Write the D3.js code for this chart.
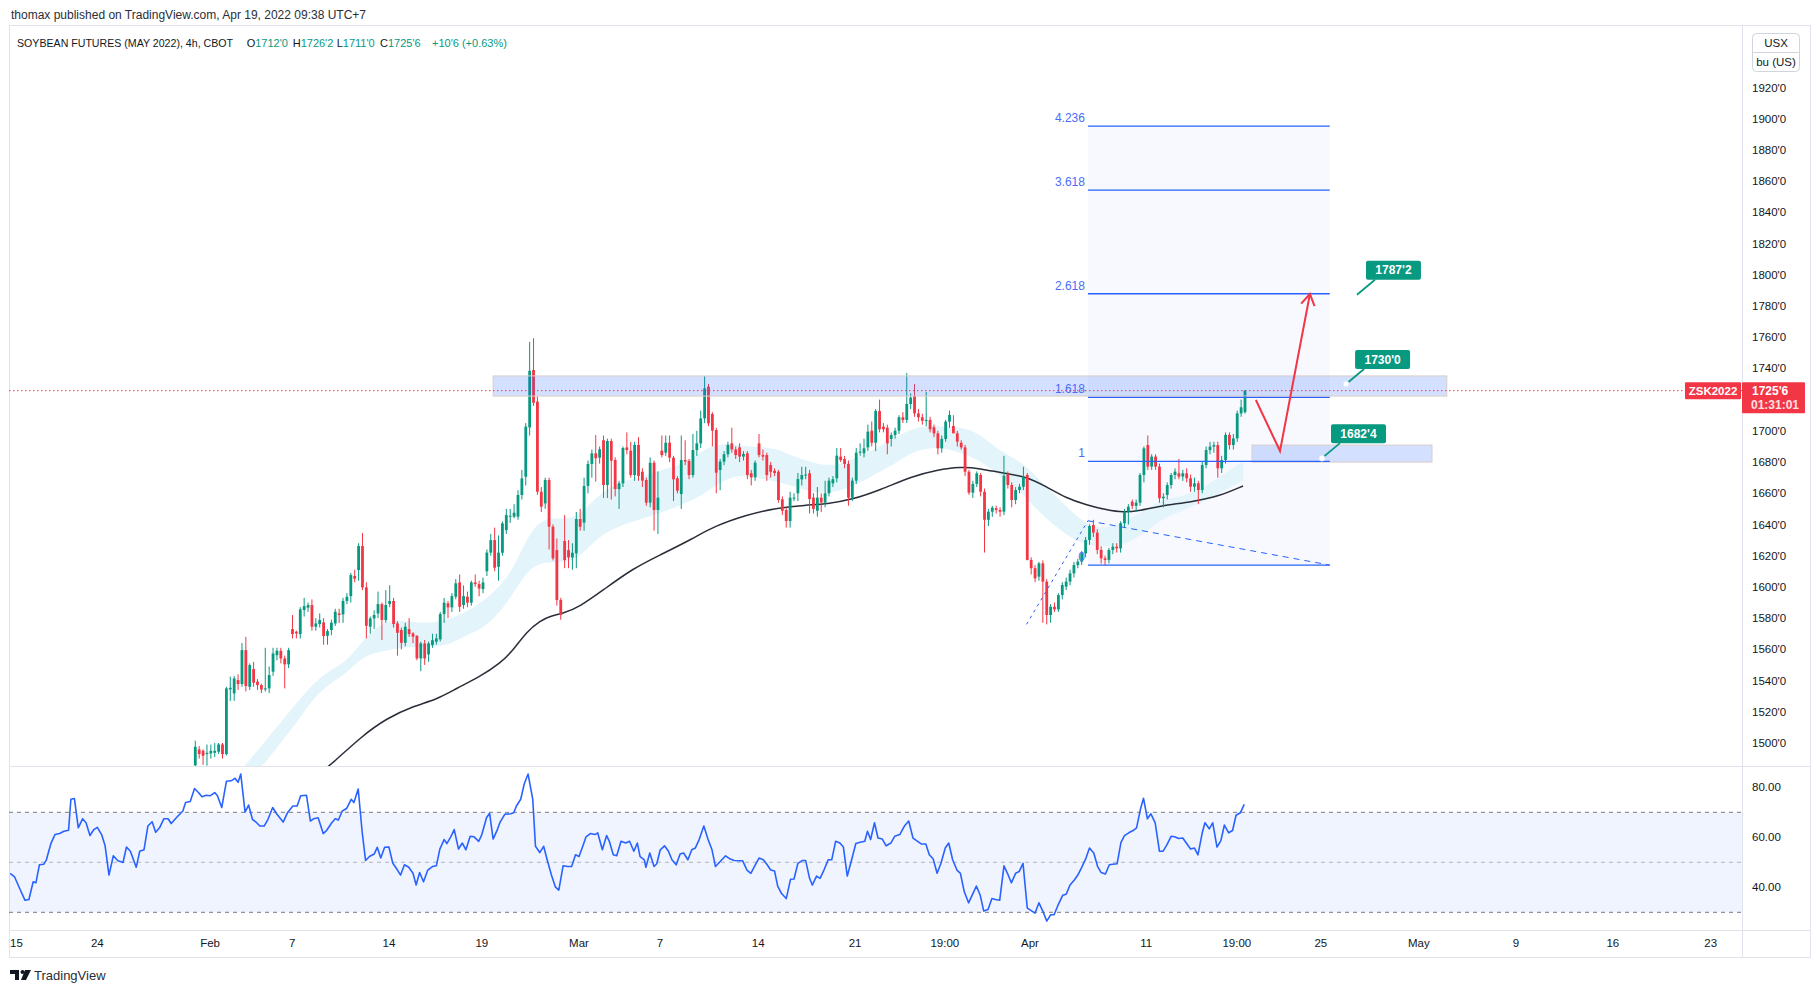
<!DOCTYPE html>
<html>
<head>
<meta charset="utf-8">
<script src="https://cdn.jsdelivr.net/npm/d3@7"></script>
<style>
  body { margin: 0; background: #fff; }
  svg text { font-family: "Liberation Sans", Arial, sans-serif; }
</style>
</head>
<body>
<svg id="chart" width="1820" height="993"></svg>
<script>
// ---- data ----
// 4h candles [open, high, low, close], first one is bar 46 (bar 0 ~ Jan 15)
const firstBar = 46;
const bars = [
  [1485.7,1501.5,1484,1497.6],[1495.9,1498,1490,1492.9],[1495,1496,1486,1491.8],[1492.9,1499,1485.5,1493.7],[1493.3,1499,1490,1495],
  [1493.7,1500,1491,1495],[1494.4,1500,1493,1499.1],[1499.1,1500,1490,1492.9],[1492.9,1536,1492,1535],[1534.3,1542.5,1527,1535.4],
  [1531.8,1543,1527,1541.4],[1540.3,1544,1534,1537.8],[1537.8,1564,1536,1559.5],[1559.5,1568,1533,1536.5],[1536,1551,1534,1549.9],
  [1547.4,1552,1536,1538.6],[1539.3,1541,1534,1537.1],[1537.1,1538,1532,1534.3],[1534.3,1561,1533,1535],[1535,1549,1532,1543.5],
  [1545.7,1561,1543,1557.4],[1556.3,1561,1553,1559.1],[1559.1,1561,1551,1554.2],[1554.2,1556,1535,1550.4],[1550.4,1561,1548,1559.5],
  [1573,1582,1567,1569.8],[1571.3,1572,1567,1570.2],[1569.8,1587,1567,1585.6],[1585.2,1593,1581,1587.7],[1586.7,1590,1584,1588.4],
  [1588.4,1592,1572,1574.5],[1574.5,1580,1572,1576.6],[1576.2,1583,1574,1578.8],[1577.3,1580,1563,1568.5],[1568.7,1573,1563,1571.7],
  [1572.4,1579,1569,1577.1],[1576.6,1586,1575,1584.1],[1583,1586,1577,1582],[1582.4,1593,1577,1591],[1591,1596,1589,1593.7],
  [1594.1,1609,1590,1607.6],[1607,1611,1603,1605.3],[1610.8,1628,1604,1626.2],[1626.2,1634.5,1598,1599.7],[1599.7,1603,1567,1575.1],
  [1574.5,1581,1570,1579.8],[1579.8,1585,1573,1582],[1583,1597,1580,1589],[1589,1590,1566,1578.8],[1578.8,1598,1577,1588.4],
  [1589,1601,1587,1591],[1591,1593,1574,1576.2],[1576.6,1578,1556,1570.6],[1572.4,1574,1560,1564.2],[1564.2,1577,1562,1574.5],
  [1573,1580,1568,1569.8],[1570.2,1571,1564,1568.1],[1568.7,1569,1553,1554.2],[1554.2,1565,1546,1563.8],[1563.8,1566,1550,1554.2],
  [1556.8,1565,1552,1563.8],[1562.7,1570,1561,1565.9],[1564.9,1570,1563,1567],[1566.4,1584,1565,1582.6],[1582.6,1593,1577,1589.9],
  [1589.5,1591,1580,1586.9],[1586.9,1596,1584,1594.1],[1593.7,1605,1592,1602.3],[1602.9,1608,1584,1587.3],[1588.4,1601,1586,1594.1],
  [1593.7,1597,1587,1589.9],[1589.9,1604,1588,1602.9],[1602.9,1608,1600,1601.8],[1601.8,1604,1594,1599],[1598.6,1606,1596,1602.9],
  [1610,1624,1607,1622],[1622,1634,1620,1630],[1630,1638,1610,1612.3],[1612.9,1633,1604,1622],[1621.9,1642,1620,1640.7],
  [1636.4,1650,1634,1646],[1645,1650,1641,1645.6],[1645,1653,1644,1647.5],[1645,1662,1643,1658.9],[1658.9,1675,1656,1669.5],
  [1670.6,1705,1665,1702.7],[1702.2,1757,1697,1738.5],[1739,1759.3,1716,1718],[1718.7,1722,1659,1661],[1661,1664,1648,1651.4],
  [1653.5,1670,1650,1668.5],[1668.5,1670,1624,1638.6],[1638.6,1640,1617,1618.3],[1623.6,1631,1588,1591.6],[1591.6,1593,1579,1582],
  [1629.4,1646,1612,1617.2],[1623.6,1630,1612,1618.9],[1618.9,1628,1611,1621.9],[1621.5,1648,1612,1643.5],[1643.5,1650,1636,1638.6],
  [1641.2,1670,1636,1664.7],[1664.7,1681,1660,1678.8],[1678.8,1688,1670,1685.6],[1685.6,1697.3,1667.5,1682.4],[1682.8,1690,1679,1688.2],
  [1694,1697,1657,1665.3],[1665.3,1695,1657,1693.5],[1693.5,1695,1656,1680.9],[1681.3,1683,1658,1662.7],[1662.7,1668,1650,1666.4],
  [1666.4,1690,1664,1689],[1689.4,1699,1685,1687.7],[1687.3,1693,1670,1671.7],[1671.7,1693,1668,1691],[1691,1696,1668,1671.1],
  [1673.8,1676,1664,1668.1],[1668.5,1670,1652,1654],[1654,1683,1651,1679.6],[1679.6,1681,1636,1649.3],[1649.3,1674,1634,1657.2],
  [1687.3,1697,1683,1684.5],[1686,1697,1684,1692.4],[1692.4,1697,1680,1682.8],[1682.8,1684,1655,1668.9],[1669.6,1671,1660,1661.7],
  [1659.5,1697,1650,1681.3],[1681.3,1694,1678,1680.3],[1680.7,1682,1669,1671.7],[1671.7,1698,1670,1687.7],[1687.7,1700,1684,1692],
  [1692,1713,1689,1708],[1708,1735,1705,1727.2],[1728.3,1730,1703,1704.8],[1710.8,1712,1690,1700.1],[1700.5,1702,1660,1673.2],
  [1674.9,1682,1662,1680.3],[1680.3,1687,1678,1685],[1685,1693,1683,1691],[1692,1702,1686,1688.1],[1688.1,1690,1682,1684.5],
  [1689.4,1692,1680,1683.5],[1683.5,1687,1681,1685.2],[1685.6,1687,1669,1671.7],[1672.8,1675,1665,1670.2],[1670.2,1681,1668,1679.6],
  [1692,1698,1683,1684.5],[1684.5,1688,1681,1683.5],[1684.5,1686,1668,1671.7],[1678.1,1680,1670,1673.8],[1674.5,1676,1671,1673],
  [1673.8,1675,1654,1655.7],[1656.1,1658,1646,1648.8],[1649.3,1651,1638,1642.2],[1642.2,1661,1638,1657.2],[1656.8,1660,1655,1657.2],
  [1660,1673,1655,1669.1],[1668.9,1677,1665,1671.7],[1671.5,1677,1669,1672],[1672.8,1675,1647,1656.3],[1657.2,1660,1647,1650],
  [1648.8,1664,1645,1657.2],[1657.2,1660,1648,1654],[1654,1668,1651,1660],[1660,1670,1658,1668.1],[1666.4,1671,1664,1669],
  [1669.6,1689,1667,1684.1],[1683.5,1689,1680,1681.3],[1682,1684,1676,1678.8],[1678.8,1681,1652,1657.2],[1657.2,1670,1655,1668.1],
  [1668.1,1689,1666,1686],[1686,1692,1684,1686.7],[1685.6,1695,1683,1688.8],[1689.4,1704,1687,1699.5],[1700.1,1706,1690,1692.4],
  [1692.4,1714,1687,1712.7],[1712.7,1720,1699,1701],[1702.7,1705,1699,1701],[1702,1704,1685,1692],[1694.8,1699,1690,1697.3],
  [1697.3,1702,1695,1700.1],[1700.1,1710,1698,1708.7],[1708.7,1712,1705,1707],[1707,1737,1705,1717.2],[1717.2,1724,1714,1721.3],
  [1722.3,1730,1709,1711.2],[1711.2,1714,1706,1708.7],[1708.7,1711,1704,1706.5],[1706.5,1725,1703,1707],[1707,1709,1699,1701],
  [1702.3,1704,1696,1698.4],[1698.4,1700,1685,1688.8],[1688.8,1697,1686,1694.8],[1694.8,1707,1693,1705.9],[1705.9,1713,1702,1710.2],
  [1703.1,1710,1700,1698.4],[1698.4,1700,1690,1693.1],[1692.4,1694,1688,1689.4],[1689.4,1691,1671,1673.8],[1673.8,1675,1659,1660.4],
  [1660.4,1668,1657,1666],[1666,1674,1664,1672.8],[1671.7,1673,1658,1661],[1661,1663,1622,1643],[1643,1650,1639,1648.2],
  [1648.2,1652,1645,1650.8],[1650.4,1652,1647,1649.3],[1649.3,1651,1645,1648.2],[1648.2,1684,1646,1671.3],[1672.2,1674,1663,1665.3],
  [1665.3,1667,1651,1655.7],[1655.7,1664,1653,1662.1],[1662.1,1666,1660,1664.2],[1664.2,1677,1662,1670.7],[1671.7,1673,1617,1617.3],
  [1617.3,1619,1608,1612],[1612,1614,1603,1605.5],[1606.6,1616,1604,1615.1],[1615.1,1617,1577,1603.4],[1603.4,1605,1576,1582],
  [1582,1589,1577,1587.3],[1587.3,1590,1584,1585.6],[1585.6,1596,1584,1594.8],[1594.8,1603,1592,1601.2],[1600.2,1606,1598,1603.4],
  [1603.4,1611,1601,1608.7],[1608.7,1616,1606,1614],[1614,1618,1612,1616.2],[1616.2,1623,1614,1621.5],[1621.5,1632,1619,1630.1],
  [1630.1,1640,1627,1639],[1639.7,1643,1632,1634.8],[1634.8,1637,1621,1623.7],[1623.7,1626,1615,1618.3],[1618.3,1620,1614,1617.3],
  [1617.3,1625,1615,1623.7],[1623.7,1628,1621,1625.8],[1625.8,1628,1622,1624.7],[1624.7,1642,1622,1640.8],[1640.8,1650,1638,1648.2],
  [1648.2,1653,1640,1651.4],[1654.6,1656,1650,1651.9],[1651.9,1656,1648,1654],[1654,1673,1652,1671.7],[1671.7,1690,1667,1688.8],
  [1690.9,1697,1675,1677.1],[1677.1,1685,1675,1683.5],[1683.5,1685,1675,1677.1],[1677.1,1679,1654,1656.8],[1656.8,1660,1651,1657.8],
  [1658.9,1667,1656,1665.3],[1665.3,1673,1663,1671.7],[1671.7,1676,1669,1673.9],[1672.8,1682,1669,1670.7],[1670.7,1675,1668,1672.8],
  [1672.8,1676,1667,1669.6],[1669.6,1672,1661,1664.2],[1664.2,1670,1661,1666.4],[1666.4,1668,1653,1662.1],[1662.1,1680,1660,1678.1],
  [1678.1,1690,1676,1687.7],[1687.7,1693,1685,1689.9],[1689.9,1693,1686,1690.9],[1690.9,1693,1670,1676],[1676,1684,1673,1681.3],
  [1681.3,1699,1679,1697.4],[1697.4,1699,1688,1690.9],[1690.9,1698,1688,1695.2],[1695.2,1713,1693,1711.2],[1711.2,1720,1709,1715.1],
  [1712,1726.25,1711,1725.75]
];

// black moving average, [bar, price]
const emaPoints = [
  [78,1481],[80.9,1486],[88.8,1504.4],[95.2,1515.8],[102.1,1523.7],[108.1,1527.9],[113.2,1535],[119.2,1542.5],[124.4,1551],
  [127.8,1559.5],[131.2,1571.3],[134.7,1578.3],[137.2,1581.3],[140.6,1583],[144.9,1587.3],[150.9,1598],[158.6,1611.9],
  [165.5,1620.4],[174.1,1631.1],[179.2,1638.6],[187.8,1646.1],[194.7,1650.3],[203.2,1652.5],[208.4,1653.1],[215.2,1656.1],
  [222.1,1662.1],[230.7,1671.1],[236.7,1674.9],[242.7,1677],[247.8,1676],[253.8,1672.8],[259.8,1670.7],[264.9,1664.2],
  [270.1,1656.8],[275.3,1652.5],[280.4,1649.3],[284.7,1647.6],[289,1648.9],[294.1,1651.9],[302.7,1654.6],[309.5,1658.3],[315.5,1664.7]
];

// light blue ribbon edges, [bar, price]
const bandUpper = [
  [55,1474],[58.8,1485.8],[63.5,1499.7],[67.8,1512.6],[72,1525.4],[76.3,1538.2],[80.6,1546.7],[84.9,1552.1],[89.2,1565.9],
  [93.4,1576.6],[97.8,1578.8],[102,1577.7],[106.3,1576.6],[110.6,1578.8],[114.9,1583],[119.2,1589.4],[123.5,1598],
  [127.8,1610.8],[132.1,1636.4],[136.4,1645],[140.6,1642.9],[144.9,1646],[148.4,1655.7],[152.7,1664.2],[157,1668.5],
  [161.2,1670.6],[165.5,1674.9],[169.8,1677],[174.1,1683.5],[178.3,1689.9],[182.6,1692],[186.9,1690.3],[191.2,1689.4],
  [195.5,1688.8],[199.8,1683.5],[204,1680.3],[208.3,1677.5],[212.6,1679.2],[216.9,1683.5],[221.2,1688.8],[225.5,1695.2],
  [229.7,1700.5],[234,1703.7],[238.3,1702.7],[242.6,1702.7],[247.8,1698.4],[252.9,1686.7],[258.1,1681.3],[263.2,1668.5],
  [268.4,1655.7],[273.5,1642.9],[278.7,1636.5],[283.8,1640.8],[289,1647.2],[294.1,1655.7],[299.2,1657.8],[304.4,1662.1],
  [309.5,1670.7],[315.6,1680.3]
];
const bandLower = [
  [59,1474],[63.5,1485.8],[67.8,1499.7],[72,1512.6],[76.3,1528.6],[80.6,1538.2],[84.9,1544.6],[89.2,1555.7],[93.4,1558.5],
  [97.8,1560.6],[102,1561.7],[106.3,1561.7],[110.6,1562.1],[114.9,1568.1],[119.2,1572.4],[123.5,1580.9],[127.8,1595.9],
  [132.1,1613],[136.4,1616.2],[140.6,1615.1],[144.9,1619],[148.4,1629],[152.7,1636.5],[157,1640.7],[161.2,1643.9],
  [165.5,1647.2],[169.8,1651.4],[174.1,1655.7],[178.3,1662.1],[182.6,1669.6],[186.9,1671.7],[191.2,1669.6],[195.5,1667.4],
  [199.8,1664.7],[204,1661],[208.3,1660],[212.6,1662.1],[216.9,1666.4],[221.2,1672.8],[225.5,1678.1],[229.7,1685.6],
  [234,1688.8],[238.3,1689.4],[242.6,1686],[247.8,1681.3],[252.9,1670.7],[258.1,1662.1],[263.2,1647.2],[268.4,1636.5],
  [273.5,1627.9],[278.7,1625.8],[283.8,1625.8],[289,1632.2],[294.1,1642.9],[299.2,1648.2],[304.4,1653.6],[309.5,1660],[315.6,1668.5]
];

// RSI, [bar, value]
const rsiPoints = [
  [-1.6,45.6],[-0.5,44.2],[1,38.9],[2.2,34.8],[3.2,35.1],[4.3,42.2],[5,41.8],[5.9,49],[7,49.2],[7.7,51],[8.9,57.7],[9.9,61.1],
  [11.1,61.5],[12.2,62.4],[13.4,62.8],[14,75.2],[14.9,75.5],[15.9,63.8],[17,67.4],[17.9,65.8],[18.9,60.7],[19.9,63.1],[20.8,64],
  [21.9,61.1],[22.8,56.6],[23.8,44.9],[24.9,52.6],[26.1,50.6],[27.4,49.9],[28.3,56.1],[29.3,54.4],[30.8,48],[31.7,54.4],[32.8,55],
  [33.8,64.5],[34.9,66.2],[35.8,62],[36.8,63.8],[37.9,67.4],[39,67.4],[39.8,65.5],[41.3,68.1],[42.8,70.5],[43.5,73.9],[44.7,74.3],
  [45.8,79.5],[46.8,77.9],[47.7,76.2],[48.8,76.8],[49.8,76.6],[51,77.9],[51.7,76.6],[52.8,71.9],[54,82.4],[55.2,82.6],[56.2,83.6],
  [57,82],[57.7,85.3],[58.8,70.1],[59.7,72.9],[60.7,67.2],[61.6,66.1],[62.6,64.5],[63.7,64.5],[64.7,67.2],[65.9,71.9],[67,69.2],
  [68.6,66.1],[69.7,69.8],[71.1,72.5],[72.2,72.5],[73.1,76.6],[74.6,76.8],[75.6,66.5],[76.4,67.4],[77.6,67.8],[78.9,61.5],
  [79.8,62.8],[81.1,65.8],[82,67.4],[82.8,66.9],[83.8,70.5],[84.9,71.5],[86.1,75.2],[86.8,73.9],[87.9,79.3],[88.9,62.4],[89.8,50.7],
  [90.8,52.3],[92,53.3],[92.8,56],[93.7,51.7],[94.7,56],[95.8,56.1],[96.8,49.6],[98,46.9],[98.8,44.9],[99.8,49],[100.9,48],
  [102,45.6],[102.8,40.9],[103.7,45.9],[104.7,42.2],[105.8,46.9],[107,48.3],[108,48.6],[108.9,55.3],[110,59.1],[110.7,57.5],
  [111.7,60.2],[112.6,63.1],[113.7,55.3],[114.7,57.7],[115.6,55],[116.7,60.4],[117.7,60.2],[118.9,58.4],[119.7,61.1],[120.9,67.8],
  [121.7,69.6],[122.6,59.3],[123.7,63.1],[124.4,66.1],[125.6,69.2],[127.1,69.4],[127.9,69.8],[128.6,72.5],[129.7,75.2],[130.6,81.3],
  [131.6,85.3],[132.8,75.2],[133.5,56.4],[134.6,53.9],[135.6,56.4],[136.5,51],[137.6,44.9],[138.6,40.2],[139.5,38.9],[140.6,48.6],
  [141.8,48.3],[142.8,48.3],[143.8,53],[144.7,52.3],[145.8,57],[146.5,60.2],[147.6,61.5],[148.8,61.1],[149.5,61.8],[150.7,55],
  [151.8,60.7],[152.5,58.4],[153.5,53],[154.4,52.6],[155.5,58.4],[156.7,57.7],[157.7,58.4],[158.8,54.4],[159.7,57.7],[160.4,52.3],
  [161.5,51],[161.9,48],[162.9,53.7],[164,48.3],[164.7,49.4],[165.6,55],[166.7,56.6],[167.7,54.4],[168.6,51],[169.7,49],[170.7,53.3],
  [171.6,53.7],[172.7,51],[173.7,55],[174.6,55.7],[175.6,59.1],[176.8,64.5],[177.9,59.1],[178.9,55],[179.8,48.3],[181.2,50.6],
  [182.4,52.6],[183.6,51.3],[184.6,50.7],[185.6,50.6],[186.8,50.6],[187.9,46.9],[188.9,45.6],[189.8,48.3],[191,51.7],[192.1,51],
  [193.1,49],[194,46.9],[195,46.5],[195.8,40.5],[196.8,37.5],[198,35.5],[199.1,43.2],[200,43.3],[201,49.6],[202.1,50.7],[203,50.7],
  [204,43.6],[204.7,40.9],[205.8,44.5],[206.7,43.6],[207.7,46.9],[208.8,51],[209.7,51],[210.7,58.4],[211.8,57.7],[212.7,56.1],
  [213.7,44.5],[214.7,50.3],[215.9,57.5],[217,58],[218.2,58.4],[218.9,62.4],[219.7,59.1],[220.7,65.8],[221.6,59.7],[222.7,59.3],
  [223.7,56.6],[224.9,57.7],[225.9,60.4],[227.2,61.1],[228.4,64.5],[229.5,66.5],[230.6,59.7],[231.8,58.4],[232.8,57.3],[233.9,57.3],
  [234.8,53],[235.8,51.3],[236.8,45.6],[237.8,49.6],[238.9,55.7],[239.8,57.7],[240.8,51],[241.9,46.9],[242.8,45.6],[243.8,38.2],
  [244.9,33.8],[245.8,36.8],[246.9,40.5],[247.9,36.8],[248.8,30.5],[249.9,31.1],[250.9,35.5],[251.8,35.1],[252.9,34.8],[254,48.6],
  [254.9,45.6],[255.9,41.8],[257,45.6],[257.9,46.3],[258.9,49.6],[260,31.7],[260.9,30.8],[262,29.7],[263,33.8],[263.9,30.8],
  [265,26.5],[266,29],[266.9,29],[268,33.2],[269.1,36.8],[270,37.2],[271,40.9],[272.1,42.9],[273,44.9],[274,48],[275.1,51.7],
  [276,55.7],[277.1,53.7],[278.1,48.3],[279,45.9],[280.1,45.3],[281.1,49],[282,49.2],[283.1,49.4],[284.1,58],[285,60.7],[286.1,61.8],
  [287.2,62.7],[288.1,63.8],[289.1,71.2],[289.9,75.6],[290.9,67.4],[291.8,69.4],[292.9,65.8],[294,54.4],[294.9,54.4],[295.9,57],
  [297,60.4],[297.9,60.2],[298.9,59.5],[300,59.7],[300.9,57.7],[302,55.3],[303,55.7],[303.9,53],[305,61.8],[305.7,65.8],[306.8,63.4],
  [307.7,65.8],[308.8,56.1],[309.8,58.7],[310.7,64.9],[311.8,61.8],[312.8,62.7],[313.7,68.8],[314.8,69.8],[315.8,73.2]
];

// time axis labels, [bar, label]
const timeTicks = [
  [0,"15"],[20.8,"24"],[49.8,"Feb"],[70.9,"7"],[95.8,"14"],[119.7,"19"],[144.7,"Mar"],[165.5,"7"],[190.8,"14"],[215.7,"21"],
  [238.8,"19:00"],[260.7,"Apr"],[290.6,"11"],[313.9,"19:00"],[335.5,"25"],[360.7,"May"],[385.7,"9"],[410.6,"16"],[435.8,"23"]
];
const priceTicks = [1500,1520,1540,1560,1580,1600,1620,1640,1660,1680,1700,1720,1740,1760,1780,1800,1820,1840,1860,1880,1900,1920];
const rsiTicks = [40, 60, 80];
const rsiLevels = [70, 50, 30];

// trend based fib extension: points A, B, C as [bar, price]
const fibA = [259.8, 1576];
const fibB = [275.6, 1642.4];
const fibC = [337.8, 1614];
const fibRatios = [0, 1, 1.618, 2.618, 3.618, 4.236];

// drawn zones [fromBar, toBar, top, bottom]
const zones = [[122.6, 367.9, 1735.2, 1722.3], [317.8, 364.1, 1690.9, 1680]];
// price callouts [bar, price, hasDot]
const callouts = [[344.8, 1787.25, false], [342, 1730, true], [335.8, 1682.5, true]];
// red projection path [bar, price]
const projection = [[318.8, 1719.8], [325, 1687.1], [332.7, 1787.7]];

const lastPrice = 1725.75;
const symbol = "ZSK2022";
const countdown = "01:31:01";
const title = "SOYBEAN FUTURES (MAY 2022), 4h, CBOT";
const ohlc = [["O", 1712], ["H", 1726.25], ["L", 1711], ["C", 1725.75]];
const change = "+10'6 (+0.63%)";

// ---- layout ----
const plotL = 9, plotR = 1742, outerR = 1810;
const paneTop = 25, paneBot = 766, rsiBot = 930, axisBot = 957;
const upColor = "#089981", downColor = "#f23645", textColor = "#131722", lineColor = "#e0e3eb";

const fmt = p => `${Math.floor(p)}'${Math.round((p - Math.floor(p)) * 8)}`;

const svg = d3.select("#chart");

const x = d3.scaleLinear().domain([firstBar, firstBar + bars.length - 1]).range([195.3, 1245]);
const y = d3.scaleLinear().domain([1500, 1920]).range([743, 87.5]);
const yr = d3.scaleLinear().domain([30, 70]).range([912.3, 812.3]);

// header
svg.append("text").attr("x", 11).attr("y", 19).attr("font-size", 12).attr("fill", "#2a2e39")
  .text("thomax published on TradingView.com, Apr 19, 2022 09:38 UTC+7");

// frame
const frame = svg.append("g").attr("stroke", lineColor).attr("fill", "none").attr("shape-rendering", "crispEdges");
frame.append("rect").attr("x", plotL).attr("y", paneTop).attr("width", outerR - plotL).attr("height", axisBot - paneTop);
frame.append("line").attr("x1", plotR).attr("x2", plotR).attr("y1", paneTop).attr("y2", axisBot);
frame.append("line").attr("x1", plotL).attr("x2", outerR).attr("y1", paneBot).attr("y2", paneBot);
frame.append("line").attr("x1", plotL).attr("x2", outerR).attr("y1", rsiBot).attr("y2", rsiBot);

// clips
const defs = svg.append("defs");
defs.append("clipPath").attr("id", "clipPrice").append("rect")
  .attr("x", plotL).attr("y", paneTop).attr("width", plotR - plotL).attr("height", paneBot - paneTop);
defs.append("clipPath").attr("id", "clipRsi").append("rect")
  .attr("x", plotL).attr("y", paneBot).attr("width", plotR - plotL).attr("height", rsiBot - paneBot);

const pane = svg.append("g").attr("clip-path", "url(#clipPrice)");

// fib background
const fibRange = fibB[1] - fibA[1];
const fibLevels = fibRatios.map(r => ({ r, p: fibC[1] + r * fibRange }));
const fibTop = d3.max(fibLevels, d => d.p);
pane.append("rect")
  .attr("x", x(fibB[0])).attr("width", x(fibC[0]) - x(fibB[0]))
  .attr("y", y(fibTop)).attr("height", y(fibC[1]) - y(fibTop))
  .attr("fill", "rgba(41,98,255,0.035)");

// ribbon
const smooth = d3.line().x(d => x(d[0])).y(d => y(d[1])).curve(d3.curveBasis);
pane.append("path")
  .attr("d", smooth(bandUpper) + "L" + smooth(bandLower.slice().reverse()).slice(1) + "Z")
  .attr("fill", "#e3f5fa");

// moving average
pane.append("path").attr("d", smooth(emaPoints))
  .attr("fill", "none").attr("stroke", "#2a2e39").attr("stroke-width", 1.5);

// candles
const candle = pane.append("g").selectAll("g").data(bars).join("g")
  .attr("transform", (d, i) => `translate(${x(firstBar + i)},0)`);
candle.append("line")
  .attr("y1", d => y(d[1])).attr("y2", d => y(d[2]))
  .attr("stroke", d => d[3] >= d[0] ? upColor : downColor).attr("stroke-width", 1);
candle.append("rect")
  .attr("x", -1.4).attr("width", 2.8)
  .attr("y", d => y(Math.max(d[0], d[3])))
  .attr("height", d => Math.max(1, Math.abs(y(d[0]) - y(d[3]))))
  .attr("fill", d => d[3] >= d[0] ? upColor : downColor);

// zones
pane.append("g").selectAll("rect").data(zones).join("rect")
  .attr("x", d => x(d[0])).attr("width", d => x(d[1]) - x(d[0]))
  .attr("y", d => y(d[2])).attr("height", d => y(d[3]) - y(d[2]))
  .attr("fill", "rgba(41,98,255,0.2)").attr("stroke", "#d9cdc8").attr("stroke-width", 1);

// fib levels
const fibG = pane.append("g");
fibG.selectAll("line").data(fibLevels).join("line")
  .attr("x1", x(fibB[0])).attr("x2", x(fibC[0]))
  .attr("y1", d => y(d.p)).attr("y2", d => y(d.p))
  .attr("stroke", "#2962ff").attr("stroke-width", 1.3);
fibG.selectAll("text").data(fibLevels).join("text")
  .attr("x", x(fibB[0]) - 3).attr("y", d => y(d.p) - 4)
  .attr("text-anchor", "end").attr("font-size", 12).attr("fill", "#4a6cf7")
  .text(d => d.r === 0 ? "0" : d.r === 1 ? "1" : d.r.toFixed(3));

// fib anchor lines
const straight = d3.line().x(d => x(d[0])).y(d => y(d[1]));
pane.append("path").attr("d", straight([fibA, fibB]))
  .attr("fill", "none").attr("stroke", "#2962ff").attr("stroke-width", 1).attr("stroke-dasharray", "3,4");
pane.append("path").attr("d", straight([fibB, fibC]))
  .attr("fill", "none").attr("stroke", "#2962ff").attr("stroke-width", 1).attr("stroke-dasharray", "6,5");

// last price dotted line
pane.append("line").attr("x1", plotL).attr("x2", plotR)
  .attr("y1", y(lastPrice)).attr("y2", y(lastPrice))
  .attr("stroke", downColor).attr("stroke-width", 1).attr("stroke-dasharray", "1.5,2.5");

// red projection arrow
pane.append("path").attr("d", straight(projection))
  .attr("fill", "none").attr("stroke", downColor).attr("stroke-width", 2).attr("stroke-linejoin", "miter");
{
  const [p1, p2] = projection.slice(-2).map(d => [x(d[0]), y(d[1])]);
  const ang = Math.atan2(p2[1] - p1[1], p2[0] - p1[0]);
  const len = 13, spread = 0.55;
  const wing = s => [p2[0] - len * Math.cos(ang + s), p2[1] - len * Math.sin(ang + s)];
  pane.append("path")
    .attr("d", d3.line()([wing(spread), p2, wing(-spread)]))
    .attr("fill", "none").attr("stroke", downColor).attr("stroke-width", 2);
}

// callouts
const co = pane.append("g").selectAll("g").data(callouts).join("g")
  .attr("transform", d => `translate(${x(d[0])},${y(d[1])})`);
co.append("line").attr("x1", 0).attr("y1", 0).attr("x2", 18).attr("y2", -15)
  .attr("stroke", upColor).attr("stroke-width", 1.8);
co.append("rect").attr("x", 9).attr("y", -34).attr("width", 55).attr("height", 19).attr("rx", 2)
  .attr("fill", upColor);
co.append("text").attr("x", 36.5).attr("y", -20.5).attr("text-anchor", "middle")
  .attr("font-size", 12).attr("font-weight", "bold").attr("fill", "#fff")
  .text(d => fmt(d[1]));
co.filter(d => d[2]).append("circle").attr("r", 3).attr("fill", "#fff").attr("stroke", "#cfd8f5").attr("stroke-width", 0.5);

// ---- price axis ----
const ly = y(lastPrice);
const axisG = svg.append("g").attr("font-size", 11.5).attr("fill", textColor);
axisG.selectAll("text").data(priceTicks.filter(t => Math.abs(y(t) - ly - 7) > 20)).join("text")
  .attr("x", 1752).attr("y", d => y(d) + 4).text(d => fmt(d));

// unit box
const unit = svg.append("g");
unit.append("rect").attr("x", 1752.5).attr("y", 33.5).attr("width", 47).attr("height", 38).attr("rx", 4)
  .attr("fill", "#fff").attr("stroke", "#d1d4dc");
unit.append("line").attr("x1", 1752.5).attr("x2", 1799.5).attr("y1", 52.5).attr("y2", 52.5).attr("stroke", "#d1d4dc");
unit.append("text").attr("x", 1776).attr("y", 47).attr("text-anchor", "middle").attr("font-size", 11.5).attr("fill", textColor).text("USX");
unit.append("text").attr("x", 1776).attr("y", 66).attr("text-anchor", "middle").attr("font-size", 11.5).attr("fill", textColor).text("bu (US)");

// last price labels
svg.append("rect").attr("x", 1685).attr("y", ly - 8.5).attr("width", 56).attr("height", 17).attr("rx", 1).attr("fill", downColor);
svg.append("text").attr("x", 1713).attr("y", ly + 4).attr("text-anchor", "middle").attr("font-size", 11.5)
  .attr("font-weight", "bold").attr("fill", "#fff").text(symbol);
svg.append("rect").attr("x", 1742).attr("y", ly - 8.5).attr("width", 63).attr("height", 31).attr("rx", 1).attr("fill", downColor);
svg.append("text").attr("x", 1752).attr("y", ly + 4).attr("font-size", 12).attr("font-weight", "bold").attr("fill", "#fff").text(fmt(lastPrice));
svg.append("text").attr("x", 1751).attr("y", ly + 18).attr("font-size", 12).attr("font-weight", "bold").attr("fill", "#fde0e2").text(countdown);

// ---- legend ----
svg.append("text").attr("x", 17).attr("y", 46.5).attr("font-size", 11).attr("fill", textColor)
  .attr("textLength", 216).attr("lengthAdjust", "spacingAndGlyphs").text(title);
const legX = [246.7, 292.7, 336.7, 380];
ohlc.forEach((d, i) => {
  const t = svg.append("text").attr("x", legX[i]).attr("y", 46.5).attr("font-size", 11);
  t.append("tspan").attr("fill", textColor).text(d[0]);
  t.append("tspan").attr("fill", upColor).text(fmt(d[1]));
});
svg.append("text").attr("x", 432).attr("y", 46.5).attr("font-size", 11).attr("fill", upColor).text(change);

// ---- RSI pane ----
const rsiG = svg.append("g").attr("clip-path", "url(#clipRsi)");
rsiG.append("rect").attr("x", plotL).attr("width", plotR - plotL)
  .attr("y", yr(70)).attr("height", yr(30) - yr(70)).attr("fill", "rgba(41,98,255,0.07)");
rsiG.selectAll("line").data(rsiLevels).join("line")
  .attr("x1", plotL).attr("x2", plotR).attr("y1", d => yr(d)).attr("y2", d => yr(d))
  .attr("stroke", d => d === 50 ? "#b2b5be" : "#787b86").attr("stroke-dasharray", "4,4").attr("stroke-width", 1);
rsiG.append("path")
  .attr("d", d3.line().x(d => x(d[0])).y(d => yr(d[1]))(rsiPoints))
  .attr("fill", "none").attr("stroke", "#2962ff").attr("stroke-width", 1.6).attr("stroke-linejoin", "round");
svg.append("g").attr("font-size", 11.5).attr("fill", textColor)
  .selectAll("text").data(rsiTicks).join("text")
  .attr("x", 1752).attr("y", d => yr(d) + 4).text(d => d.toFixed(2));

// ---- time axis ----
svg.append("g").attr("font-size", 11.5).attr("fill", textColor)
  .selectAll("text").data(timeTicks).join("text")
  .attr("x", d => x(d[0])).attr("y", 947).attr("text-anchor", "middle")
  .text(d => d[1]);

// ---- footer logo ----
const logo = svg.append("g").attr("fill", "#131722");
logo.append("path").attr("d", "M10,970 H19 V980 H15 V974 H10 Z");
logo.append("circle").attr("cx", 22.5).attr("cy", 972).attr("r", 2);
logo.append("path").attr("d", "M25,970 H31 L26,980 H21 Z");
svg.append("text").attr("x", 34).attr("y", 979.5).attr("font-size", 13).attr("fill", "#2a2e39").text("TradingView");
</script>
</body>
</html>
